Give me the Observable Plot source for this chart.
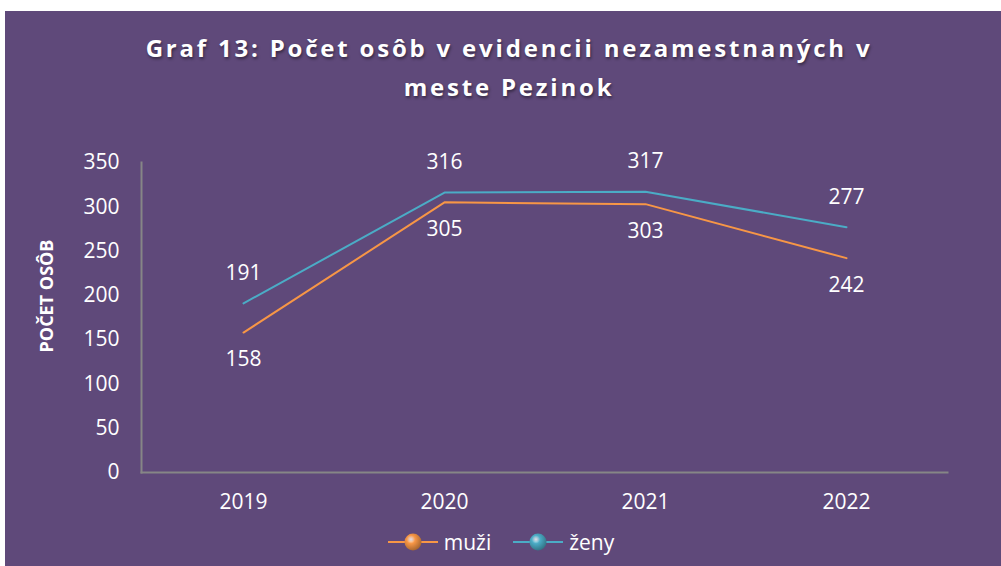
<!DOCTYPE html>
<html>
<head>
<meta charset="utf-8">
<script src="https://cdn.jsdelivr.net/npm/d3@7"></script>
<script src="https://cdn.jsdelivr.net/npm/@observablehq/plot@0.6"></script>
<style>
  html, body { margin: 0; padding: 0; background: #ffffff; }
  #panel { position: absolute; left: 5px; top: 11px; width: 996px; height: 555px; background: #5F497A; overflow: hidden; font-family: "Open Sans", sans-serif; color: #ffffff; }
  #title { position: absolute; left: 0; top: 17px; width: 1008px; text-align: center; font-weight: 700; font-size: 24px; letter-spacing: 2.8px; line-height: 39px; text-shadow: 1px 2px 3px rgba(0,0,0,0.45); }
  #ylabel { position: absolute; left: 41px; top: 285px; transform: translate(-50%, -50%) rotate(-90deg); font-weight: 700; font-size: 18px; white-space: nowrap; }
  #chart { position: absolute; left: 0; top: 125px; }
  #legend { position: absolute; left: 0; top: 517px; width: 996px; display: flex; justify-content: center; align-items: center; font-size: 21px; padding-right: 4px; box-sizing: border-box; }
  .item { display: flex; align-items: center; margin: 0 11px; }
  .item svg { margin-right: 6px; }
</style>
</head>
<body>
<div id="panel">
  <div id="title">Graf 13: Počet osôb v evidencii nezamestnaných v<br>meste Pezinok</div>
  <div id="ylabel">POČET OSÔB</div>
  <div id="chart"></div>
  <div id="legend"></div>
</div>
<script>
const years = ["2019", "2020", "2021", "2022"];
const muzi = [158, 305, 303, 242];
const zeny = [191, 316, 317, 277];
const seriesNames = ["muži", "ženy"];
const seriesColors = ["#F79646", "#4BACC6"];
const yTicks = [0, 50, 100, 150, 200, 250, 300, 350];

const rows = years.flatMap((yr, i) => [
  {year: yr, value: muzi[i], series: seriesNames[0]},
  {year: yr, value: zeny[i], series: seriesNames[1]}
]);

const chart = Plot.plot({
  width: 996,
  height: 382,
  marginLeft: 136,
  marginRight: 54,
  marginTop: 26,
  marginBottom: 46,
  style: {background: "transparent", color: "#ffffff", fontFamily: "'Open Sans', sans-serif", fontSize: "21px", overflow: "visible"},
  x: {type: "point", domain: years, padding: 0.5, label: null},
  y: {domain: [0, 350], label: null},
  color: {domain: seriesNames, range: seriesColors},
  marks: [
    Plot.frame({anchor: "left", stroke: "#868686", strokeWidth: 2}),
    Plot.frame({anchor: "bottom", stroke: "#868686", strokeWidth: 2}),
    Plot.axisY({ticks: yTicks, tickSize: 0, tickPadding: 22, label: null, fontSize: 21}),
    Plot.axisX({tickSize: 0, tickPadding: 22, label: null, fontSize: 21}),
    Plot.lineY(rows, {x: "year", y: "value", z: "series", stroke: "series", strokeWidth: 2, style: "filter: drop-shadow(2px 3px 2px rgba(0,0,0,0.35))"}),
    Plot.text(rows.filter(d => d.series === seriesNames[1]), {x: "year", y: "value", text: "value", dy: -30, fill: "#ffffff", fontSize: 21}),
    Plot.text(rows.filter(d => d.series === seriesNames[0]), {x: "year", y: "value", text: "value", dy: 27, fill: "#ffffff", fontSize: 21})
  ]
});
document.getElementById("chart").appendChild(chart);

const legend = document.getElementById("legend");
seriesNames.forEach((name, i) => {
  const item = document.createElement("div");
  item.className = "item";
  const c = seriesColors[i];
  item.innerHTML = `<svg width="50" height="20" viewBox="0 0 50 20">
    <defs><radialGradient id="g${i}" cx="0.38" cy="0.35" r="0.7">
      <stop offset="0" stop-color="#ffffff" stop-opacity="0.8"/>
      <stop offset="0.35" stop-color="${c}"/>
      <stop offset="1" stop-color="${d3.color(c).darker(1.2)}"/>
    </radialGradient></defs>
    <line x1="0" y1="10" x2="50" y2="10" stroke="${c}" stroke-width="2"/>
    <circle cx="25" cy="10" r="8.5" fill="url(#g${i})"/>
  </svg><span>${name}</span>`;
  legend.appendChild(item);
});
</script>
</body>
</html>
